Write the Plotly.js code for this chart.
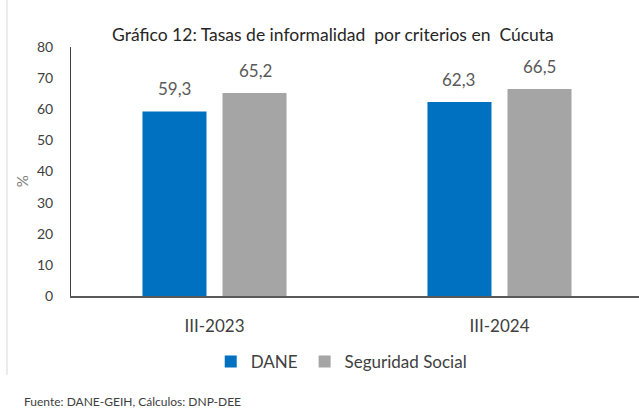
<!DOCTYPE html>
<html>
<head>
<meta charset="utf-8">
<script src="https://cdn.plot.ly/plotly-3.0.1.min.js"></script>
<style>html,body{margin:0;padding:0;background:#fff;}#chart{width:639px;height:410px;}</style>
</head>
<body>
<div id="chart"></div>
<script>
var categories = ['III-2023', 'III-2024'];
var seriesNames = ['DANE', 'Seguridad Social'];
var daneValues = [59.3, 62.3];
var seguridadValues = [65.2, 66.5];
var yTicks = [0, 10, 20, 30, 40, 50, 60, 70, 80];

var FONT = 'Lato, "Open Sans", sans-serif';
var colors = ['#0070C0', '#A5A5A5'];
var seriesValues = [daneValues, seguridadValues];
var barWidth = 0.2246;
var offsets = [-0.2527, 0.0281];
var legendIds = ['legend', 'legend2'];

var traces = seriesNames.map(function (name, i) {
  return {
    type: 'bar',
    name: name,
    x: categories,
    y: seriesValues[i],
    width: barWidth,
    offset: offsets[i],
    marker: {color: colors[i]},
    legend: legendIds[i],
    hoverinfo: 'none'
  };
});

var annotations = [];
seriesValues.forEach(function (vals, i) {
  vals.forEach(function (v, j) {
    annotations.push({
      x: categories[j], y: v, xref: 'x', yref: 'y',
      text: v.toFixed(1).replace('.', ','),
      showarrow: false, xanchor: 'center', yanchor: 'bottom',
      xshift: i === 0 ? -40.5 : 40.5, yshift: 10,
      font: {family: FONT, size: 17, color: '#595959'}
    });
  });
});
annotations.push({
  xref: 'paper', yref: 'paper', x: -0.085, y: 0.46,
  text: '%', textangle: -90, showarrow: false,
  xanchor: 'center', yanchor: 'middle',
  font: {family: FONT, size: 15, color: '#808080'}
});
annotations.push({
  xref: 'paper', yref: 'paper', x: -0.0865, y: -0.4217,
  xanchor: 'left', yanchor: 'middle', showarrow: false,
  text: 'Fuente: DANE-GEIH, Cálculos: DNP-DEE',
  font: {family: FONT, size: 12, color: '#404040'}
});

function legendCfg(x) {
  return {
    orientation: 'h',
    x: x, xanchor: 'left', xref: 'paper',
    y: -0.193, yanchor: 'top', yref: 'paper',
    bgcolor: 'rgba(0,0,0,0)',
    font: {family: FONT, size: 17, color: '#404040'},
    itemwidth: 30
  };
}

var layout = {
  width: 639, height: 410,
  margin: {l: 71, r: 0, t: 47, b: 114},
  paper_bgcolor: '#ffffff', plot_bgcolor: '#ffffff',
  separators: ',.',
  title: {
    text: 'Gráfico 12: Tasas de informalidad\u00A0 por criterios en\u00A0 Cúcuta',
    x: 0.521, xanchor: 'center', xref: 'container',
    y: 0.915, yanchor: 'middle', yref: 'container',
    font: {family: FONT, size: 17.5, color: '#262626'}
  },
  barmode: 'group',
  xaxis: {
    type: 'category',
    range: [-0.5035, 1.4895],
    showline: true, linecolor: '#595959', linewidth: 1.5,
    ticks: 'outside', ticklen: 14, tickcolor: 'rgba(0,0,0,0)',
    showgrid: false, zeroline: false,
    tickfont: {family: FONT, size: 17, color: '#404040'}
  },
  yaxis: {
    range: [0, 80],
    tickvals: yTicks,
    showline: true, linecolor: '#404040', linewidth: 1,
    ticks: 'outside', ticklen: 14, tickcolor: 'rgba(0,0,0,0)',
    showgrid: false, zeroline: false,
    tickfont: {family: FONT, size: 14, color: '#404040'}
  },
  showlegend: true,
  legend: legendCfg(0.246),
  legend2: legendCfg(0.4113),
  shapes: [{
    type: 'line', xref: 'paper', yref: 'paper',
    x0: -0.1127, x1: -0.1127, y0: 1.19, y1: -0.317,
    line: {color: '#D9D9D9', width: 1}
  }],
  annotations: annotations
};

Plotly.newPlot('chart', traces, layout, {staticPlot: true, displayModeBar: false});
</script>
</body>
</html>
